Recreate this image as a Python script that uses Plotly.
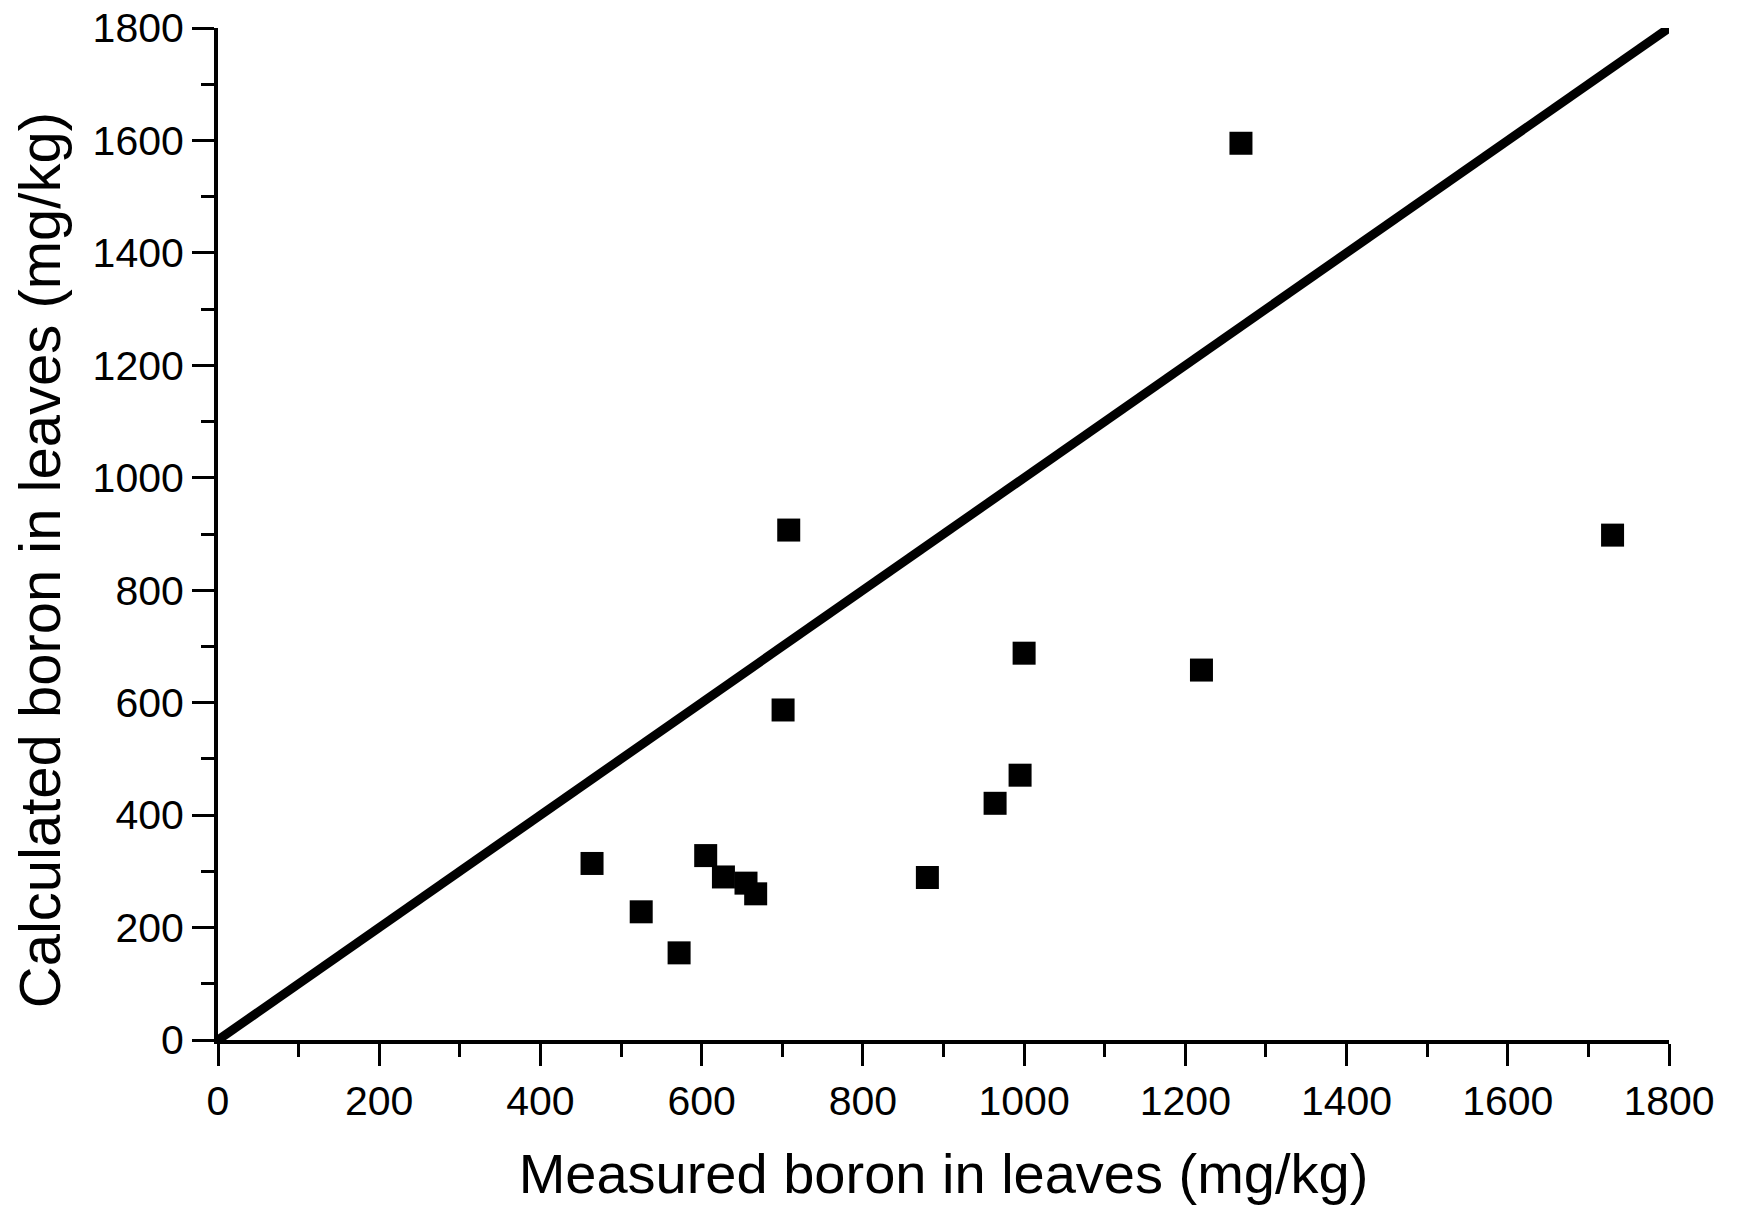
import plotly.graph_objects as go

measured = [464, 525, 572, 605, 627, 655, 667, 701, 708, 880, 964, 995, 1000, 1220, 1269, 1730]
calculated = [314, 228, 155, 328, 290, 279, 260, 587, 907, 289, 421, 471, 688, 658, 1595, 898]
line_x = [0, 1800]
line_y = [0, 1800]
tick_vals = [0, 200, 400, 600, 800, 1000, 1200, 1400, 1600, 1800]

FONT = "Liberation Sans, Arial, sans-serif"

fig = go.Figure()
fig.add_trace(go.Scatter(x=line_x, y=line_y, mode="lines",
                         line=dict(color="black", width=9), cliponaxis=False,
                         showlegend=False, hoverinfo="skip"))
fig.add_trace(go.Scatter(x=measured, y=calculated, mode="markers",
                         marker=dict(symbol="square", size=23, color="black", line=dict(width=0)),
                         cliponaxis=False, showlegend=False))

axis_common = dict(
    range=[0, 1800], tickvals=tick_vals, ticks="outside", ticklen=22, tickwidth=3,
    tickcolor="black", showline=True, linecolor="black", linewidth=4,
    showgrid=False, zeroline=False, tickfont=dict(family=FONT, size=41, color="black"),
    minor=dict(ticks="outside", ticklen=13, tickwidth=3, tickcolor="black", dtick=100, showgrid=False),
    automargin=False,
)

fig.update_layout(
    width=1738, height=1207,
    margin=dict(l=218, r=69, t=28, b=167),
    paper_bgcolor="white", plot_bgcolor="white",
    font=dict(family=FONT, color="black"),
    xaxis=dict(**axis_common, title=dict(text="Measured boron in leaves (mg/kg)",
                                         font=dict(family=FONT, size=56), standoff=32)),
    yaxis=dict(**axis_common),
    annotations=[dict(text="Calculated boron in leaves (mg/kg)", textangle=-90,
                      xref="paper", yref="paper", x=-0.1234, y=0.474,
                      xanchor="center", yanchor="middle", showarrow=False,
                      font=dict(family=FONT, size=58, color="black"))],
)

fig.write_html("out.html")
